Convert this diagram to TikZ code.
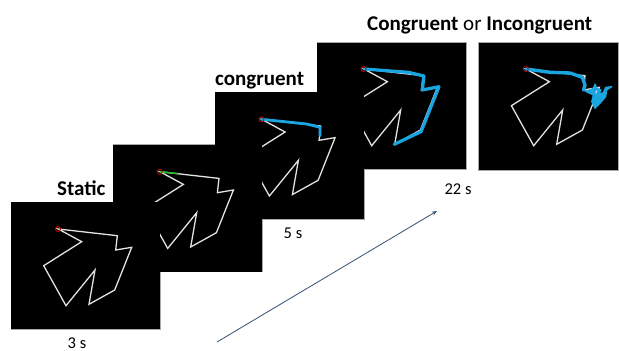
\documentclass[tikz,border=0pt]{standalone}
\usepackage{fontspec}
\setmainfont{Carlito}
\usetikzlibrary{arrows.meta}
\definecolor{tracecol}{HTML}{18A5E0}
\definecolor{shapecol}{HTML}{E2E2E2}
\definecolor{arrowcol}{HTML}{34506F}
\definecolor{edgecol}{HTML}{A8A8A8}
\definecolor{startcol}{HTML}{C00000}
\definecolor{greencol}{HTML}{22C022}
\tikzset{
  x=1pt,y=-1pt,
  panelframe/.style={draw=edgecol,line width=0.8pt},
  panelfill/.style={fill=black},
  shapeline/.style={draw=shapecol,line width=1.3pt,line join=miter},
  bluetrace/.style={draw=tracecol,line width=3.2pt,line join=round,line cap=round},
  startmark/.style={draw=startcol,line width=0.9pt,circle,inner sep=0pt,minimum size=5pt},
  headline/.style={font=\fontsize{21}{22}\selectfont\bfseries,text=black,inner sep=0pt,anchor=base west},
  timelabel/.style={font=\fontsize{16.5}{18}\selectfont,text=black,inner sep=0pt,anchor=base},
  figure/.pic={
    \draw[shapeline] (0,0)--(59,6.7)--(57.4,21)--(73.4,18.3)--(56.4,61)--(30.7,75.3)--(36.7,41)--(7.7,76.7)--(-14.6,36.7)--(23.4,12.7)--cycle;
  }
}
\begin{document}
\begin{tikzpicture}
\useasboundingbox (0,0) rectangle (619,351);
\fill[white] (0,0) rectangle (619,351);
% frames, under every black field
\draw[panelframe] (317,42.5) rectangle (466,169);
\draw[panelframe] (215,92) rectangle (364,219);
\draw[panelframe] (113,144.7) rectangle (262,271.7);
\draw[panelframe] (11,202) rectangle (160,329);
\draw[panelframe] (478.5,42.5) rectangle (618,170);
% panel 4
\fill[panelfill] (317,42.5) rectangle (466,169);
\pic at (364,69) {figure};
\draw[bluetrace] (364,69)--++(44.3,3.3)--++(15.7,3.7)--++(-1.7,14)--++(16.7,-3.3)--++(-18,45)--++(-26.7,12.6);
\node[startmark] (s4) at (363.5,69) {};
% panel 3
\fill[panelfill] (215,92) rectangle (364,219);
\pic at (261.7,119.3) {figure};
\draw[bluetrace,line width=2.8pt] (261.7,119.3)--++(45,4.7)--++(13.3,3.3)--++(0,8.3);
\node[startmark] (s3) at (261.5,119.3) {};
% panel 2
\fill[panelfill] (113,144.7) rectangle (262,271.7);
\pic at (160,171.7) {figure};
\draw[draw=greencol,line width=1.5pt] (160,171.7)--(178,173.6);
\node[startmark] (s2) at (159.7,171.7) {};
% panel 1
\fill[panelfill] (11,202) rectangle (160,329);
\pic at (58.3,229) {figure};
\node[startmark] (s1) at (58,229) {};
% panel 5
\fill[panelfill] (478.5,42.5) rectangle (618,170);
\pic at (526,69) {figure};
\draw[bluetrace,line width=3.4pt] (526,69)--(550,72.3)--(570,73)--(582.3,77.3)--(585,85)--(583.5,90);
\filldraw[draw=tracecol,fill=tracecol,line width=1.2pt,line join=round] (583.3,90)--(588.3,90.7)--(593.3,88.3)--(595,84)--(596.7,88.3)--(601,90)--(599,94)--(603.3,92.7)--(605.7,87.3)--(611.7,86.7)--(606.7,90)--(605.7,96.7)--(600,103.3)--(595,108.3)--(591.7,101.7)--(593.3,95)--(588.3,92.7)--cycle;
\draw[shapeline,line width=1pt] (596.9,90.5)--(595.7,93.3);
\node[startmark] (s5) at (525.7,69) {};
% labels
\node[headline] (static) at (57,195) {Static};
\node[headline] (cong) at (215,85) {congruent};
\node[headline] (both) at (367,30) {Congruent \textmd{or} Incongruent};
\node[timelabel] (t3) at (77,348.5) {3 s};
\node[timelabel] (t5) at (293,238) {5 s};
\node[timelabel] (t22) at (458,194) {22 s};
% time arrow
\coordinate (arrowstart) at (217,342);
\coordinate (arrowend) at (437,211);
\draw[draw=arrowcol,line width=0.8pt,-{Stealth[length=5pt,width=4pt]}] (arrowstart)--(arrowend);
\end{tikzpicture}
\end{document}
